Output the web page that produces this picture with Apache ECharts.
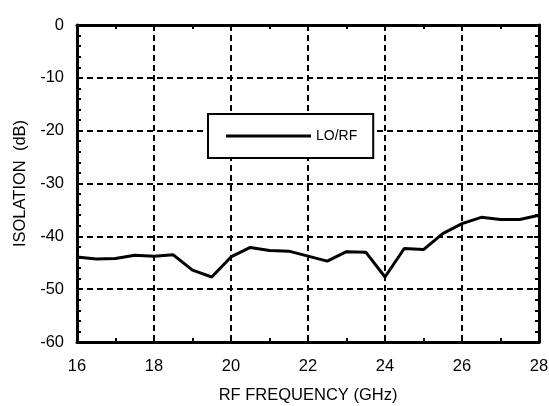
<!DOCTYPE html>
<html>
<head>
<meta charset="utf-8">
<script src="https://cdn.jsdelivr.net/npm/echarts@6/dist/echarts.min.js"></script>
<style>html,body{margin:0;padding:0;background:#fff}#c{width:549px;height:406px}</style>
</head>
<body>
<div id="c"></div>
<script>
const freqGHz = [16,16.5,17,17.5,18,18.5,19,19.5,20,20.5,21,21.5,22,22.5,23,23.5,24,24.5,25,25.5,26,26.5,27,27.5,28];
const isolationLORF = [-43.9,-44.3,-44.2,-43.6,-43.75,-43.5,-46.4,-47.7,-43.9,-42.1,-42.7,-42.8,-43.75,-44.7,-42.9,-43.0,-47.7,-42.3,-42.5,-39.5,-37.6,-36.4,-36.8,-36.8,-36.0];
const seriesName = 'LO/RF';
const xTitle = 'RF FREQUENCY (GHz)';
const yTitle = 'ISOLATION  (dB)';

const font = "'Liberation Sans', Arial, Helvetica, sans-serif";
const chart = echarts.init(document.getElementById('c'), null, {renderer:'canvas'});
const axisLine = {show:true, onZero:false, lineStyle:{color:'#000', width:3}};
const splitLine = {show:true, lineStyle:{color:'#000', width:2, type:[6,4]}};
const fs = 16.5;
chart.setOption({
  animation:false,
  textStyle:{fontFamily:font},
  grid:{left:77, right:10, top:25, bottom:64, containLabel:false, outerBoundsMode:'none'},
  legend:{
    show:true, left:208, top:114, orient:'horizontal',
    borderColor:'#000', borderWidth:2, padding:[15,16,15,18],
    icon:'rect', itemWidth:85, itemHeight:3, itemGap:0,
    textStyle:{fontSize:14, color:'#000', fontFamily:font, padding:[0,0,0,0]},
    data:[{name:seriesName, itemStyle:{color:'#000'}}],
    backgroundColor:'#fff'
  },
  xAxis:[{
    type:'value', min:16, max:28, interval:2, position:'bottom',
    name:xTitle, nameLocation:'middle', nameGap:45,
    nameTextStyle:{fontSize:fs, color:'#000', fontFamily:font},
    axisLine:axisLine,
    axisTick:{show:true, inside:true, length:5, lineStyle:{color:'#000', width:2}},
    minorTick:{show:true, splitNumber:2, length:4, lineStyle:{color:'#000', width:2}},
    axisLabel:{fontSize:fs, color:'#000', margin:16, fontFamily:font},
    splitLine:splitLine
  },{
    type:'value', min:16, max:28, interval:2, position:'top',
    axisLine:axisLine,
    axisTick:{show:true, inside:true, length:5, lineStyle:{color:'#000', width:2}},
    minorTick:{show:true, splitNumber:2, length:4, lineStyle:{color:'#000', width:2}},
    axisLabel:{show:false}, splitLine:{show:false}
  }],
  yAxis:[{
    type:'value', min:-60, max:0, interval:10, position:'left',
    name:yTitle, nameLocation:'middle', nameGap:46, nameRotate:90,
    nameTextStyle:{fontSize:fs, color:'#000', fontFamily:font},
    axisLine:axisLine,
    axisTick:{show:true, inside:true, length:5, lineStyle:{color:'#000', width:2}},
    minorTick:{show:true, splitNumber:5, length:4, lineStyle:{color:'#000', width:2}},
    axisLabel:{fontSize:fs, color:'#000', margin:13, fontFamily:font},
    splitLine:splitLine
  },{
    type:'value', min:-60, max:0, interval:10, position:'right',
    axisLine:axisLine,
    axisTick:{show:true, inside:true, length:5, lineStyle:{color:'#000', width:2}},
    minorTick:{show:true, splitNumber:5, length:4, lineStyle:{color:'#000', width:2}},
    axisLabel:{show:false}, splitLine:{show:false}
  }],
  series:[{
    name:seriesName, type:'line', xAxisIndex:0, yAxisIndex:0,
    data:freqGHz.map((f,i)=>[f, isolationLORF[i]]),
    symbol:'none', lineStyle:{color:'#000', width:3}, itemStyle:{color:'#000'},
    z:3
  }]
});
</script>
</body>
</html>
